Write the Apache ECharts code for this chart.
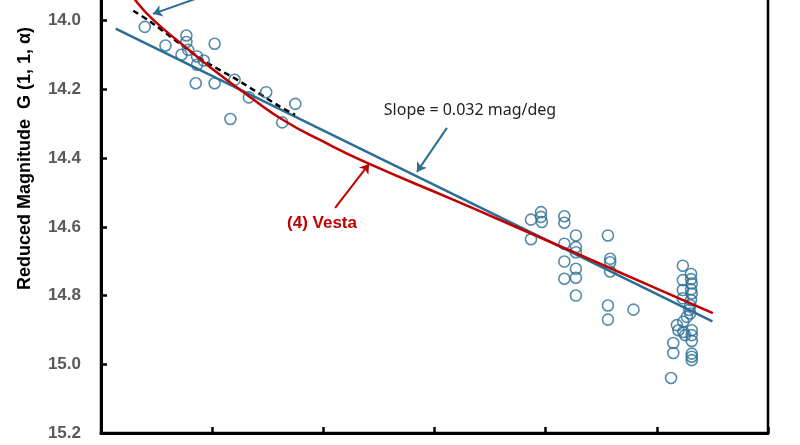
<!DOCTYPE html>
<html>
<head>
<meta charset="utf-8">
<script src="https://cdn.jsdelivr.net/npm/echarts@6/dist/echarts.min.js"></script>
<style>
html,body{margin:0;padding:0;background:#fff;}
#chart{width:800px;height:445px;}
</style>
</head>
<body>
<div id="chart"></div>
<script>
// phase angle (deg) and reduced magnitude
var obsDeg = [1.97,2.90,3.84,3.84,3.92,3.62,4.32,4.62,4.32,5.11,4.26,5.11,6.01,6.65,7.43,5.82,8.15,8.74,
	19.34,19.79,19.79,19.83,19.34,20.84,20.84,21.36,20.84,21.36,21.36,20.84,21.36,21.36,20.84,21.36,22.80,22.90,22.90,22.90,22.80,22.80,23.95,
	26.17,26.54,26.17,26.54,26.57,26.17,26.54,26.57,26.17,26.54,26.50,26.46,26.50,26.35,26.19,25.90,25.97,26.19,26.57,26.27,26.57,26.57,25.74,25.74,26.57,26.57,26.57,25.64];
var obsMag = [14.018,14.072,14.043,14.062,14.085,14.099,14.104,14.116,14.128,14.067,14.182,14.182,14.172,14.223,14.208,14.286,14.296,14.242,
	14.579,14.557,14.571,14.586,14.636,14.569,14.588,14.625,14.649,14.659,14.674,14.701,14.722,14.748,14.751,14.800,14.625,14.693,14.703,14.730,14.829,14.870,14.841,
	14.713,14.737,14.755,14.752,14.765,14.784,14.782,14.794,14.808,14.813,14.828,14.842,14.852,14.862,14.876,14.886,14.901,14.906,14.901,14.915,14.915,14.932,14.938,14.967,14.969,14.978,14.988,15.040];

// linear fit (slope 0.032 mag/deg)
var fitDeg = [0.66, 27.5];
var fitMag = [14.023, 14.875];

// (4) Vesta phase curve
var vestaDeg = [1.08,1.53,2.34,3.69,5.04,6.70,8.19,9.85,11.97,15.70,17.95,25.15,27.52];
var vestaMag = [13.895,13.939,13.997,14.071,14.142,14.222,14.289,14.347,14.414,14.517,14.580,14.784,14.851];

// dashed low-phase trend
var dashDeg = [1.45,2.20,4.45,6.25,8.05,8.73];
var dashMag = [13.971,14.002,14.109,14.177,14.250,14.274];

var yTicks = [13.8,14.0,14.2,14.4,14.6,14.8,15.0,15.2];

function pairs(xs, ys){
	var out=[];
	for(var i=0;i<xs.length;i++){ out.push([xs[i], ys[i]]); }
	return out;
}

var blue = '#2a6f93';
var red = '#c00000';

var option = {
	backgroundColor : '#fff',
	animation : false,
	grid : {
		left : 101,
		right : 32,
		top : -48,
		bottom : 12,
		outerBoundsMode : 'none',
		containLabel : false,
		show : true,
		borderColor : '#000',
		borderWidth : 2.5
	},
	xAxis : {
		type : 'value',
		min : 0,
		max : 30,
		interval : 5,
		splitLine : {show : false},
		axisLine : {onZero : false, lineStyle : {color : '#000', width : 3}},
		axisTick : {inside : true, length : 6, lineStyle : {color : '#000', width : 2.5}},
		axisLabel : {color : '#595959', fontWeight : 'bold', fontSize : 17, margin : 16}
	},
	yAxis : {
		type : 'value',
		inverse : true,
		min : yTicks[0],
		max : yTicks[yTicks.length-1],
		interval : 0.2,
		splitLine : {show : false},
		axisLine : {onZero : false, lineStyle : {color : '#000', width : 3}},
		axisTick : {inside : true, length : 6, lineStyle : {color : '#000', width : 2.5}},
		axisLabel : {
			color : '#595959',
			fontWeight : 'bold',
			fontSize : 17,
			fontFamily : 'Liberation Sans',
			margin : 20,
			formatter : function(v){ return v.toFixed(1); }
		}
	},
	graphic : [
		{
			type : 'text',
			x : 25, y : 290,
			rotation : Math.PI/2,
			style : {
				text : 'Reduced Magnitude  G (1, 1, \u03b1)',
				fill : '#000',
				font : 'bold 18px "Liberation Sans", Arial',
				textAlign : 'left',
				textVerticalAlign : 'middle'
			}
		},
		{
			type : 'text',
			x : 470, y : 110,
			style : {
				text : 'Slope = 0.032 mag/deg',
				fill : '#222',
				font : '16px "Noto Sans", Arial',
				textAlign : 'center',
				textVerticalAlign : 'middle'
			}
		},
		{
			type : 'text',
			x : 322, y : 223,
			style : {
				text : '(4) Vesta',
				fill : red,
				font : 'bold 17px "Liberation Sans", Arial',
				textAlign : 'center',
				textVerticalAlign : 'middle'
			}
		}
	],
	series : [
		{
			name : 'obs',
			type : 'scatter',
			symbol : 'circle',
			symbolSize : 11,
			itemStyle : {color : 'rgba(0,0,0,0)', borderColor : blue, borderWidth : 1.6},
			data : pairs(obsDeg, obsMag),
			z : 3
		},
		{
			name : 'fit',
			type : 'line',
			showSymbol : false,
			lineStyle : {color : blue, width : 2.5},
			data : pairs(fitDeg, fitMag),
			markLine : {
				silent : true,
				symbol : ['none','arrow'],
				symbolSize : 9,
				label : {show : false},
				lineStyle : {color : blue, width : 2, type : 'solid'},
				data : [
					[{coord : [15.56, 14.312]}, {coord : [14.21, 14.440]}],
					[{coord : [5.80, 13.901]}, {coord : [2.34, 13.980]}]
				]
			},
			z : 2
		},
		{
			name : 'Vesta',
			type : 'line',
			showSymbol : false,
			smooth : 0.5,
			lineStyle : {color : red, width : 2.5},
			data : pairs(vestaDeg, vestaMag),
			markLine : {
				silent : true,
				symbol : ['none','arrow'],
				symbolSize : 9,
				label : {show : false},
				lineStyle : {color : red, width : 2, type : 'solid'},
				data : [
					[{coord : [10.53, 14.545]}, {coord : [12.06, 14.417]}]
				]
			},
			z : 4
		},
		{
			name : 'dash',
			type : 'line',
			showSymbol : false,
			smooth : 0.3,
			lineStyle : {color : '#000', width : 2.5, type : [6,4]},
			data : pairs(dashDeg, dashMag),
			z : 2
		}
	]
};

var myChart = echarts.init(document.getElementById('chart'));
myChart.setOption(option);
</script>
</body>
</html>
